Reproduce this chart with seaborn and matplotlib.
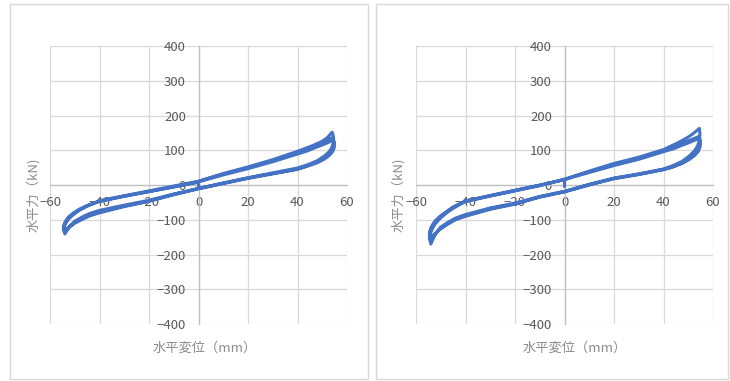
import numpy as np
import pandas as pd
import matplotlib
matplotlib.use('Agg')
import matplotlib.pyplot as plt
from matplotlib.patches import Rectangle
import seaborn as sns

# left specimen: loading path (mm, kN)
left_disp = [0, 0, 5, 10, 20, 30, 40, 46, 50, 52, 54,
             54.5, 54.6, 54, 52.8, 51, 48, 44, 40, 30, 20, 10, 0, -10, -20, -30, -40, -44, -47, -50, -52, -54,
             -54.6, -53.8, -52.5, -50.5, -48, -45, -42, -40, -33, -20, -10, 0, 10, 20, 30, 40, 44, 47, 50, 52, 54,
             54.7, 54.6, 54, 52.8, 51, 48, 44, 40, 30, 20, 10, 0, -10, -20, -30, -40, -44, -47, -50, -52, -54,
             -54.6, -53.8, -52.5, -50.5, -48, -45, -42, -40, -33, -20, -10, 0, 10, 20, 30, 40, 44, 47, 50, 52, 54.5,
             55, 54.8, 54.1, 52.8, 51, 48, 44, 40, 30, 20, 10, 0, -10, -20, -30, -40, -44, -47, -50, -52, -54,
             -54.6, -53.8, -52.5, -50.5, -48, -45, -40, -30, -20, -10, 0, 0]
left_force = [-3, 10, 22, 33, 52, 73, 97, 113, 126, 136, 152,
              140, 126, 110, 96, 84, 70, 58, 49, 35, 21, 6, -10, -26, -44, -58, -73, -82, -92, -104, -118, -141,
              -128, -112, -98, -85, -72, -60, -51, -45, -35, -17, -3, 11, 31, 50, 70, 92, 102, 112, 121, 128, 136,
              124, 112, 99, 88, 78, 66, 56, 46, 33, 20, 5, -10, -27, -46, -61, -78, -87, -97, -108, -120, -135,
              -123, -108, -95, -83, -71, -61, -52, -47, -37, -19, -5, 9, 29, 47, 67, 89, 98, 107, 115, 121, 130,
              118, 106, 95, 85, 75, 64, 54, 45, 32, 19, 4, -11, -28, -47, -62, -80, -89, -99, -110, -120, -130,
              -119, -105, -92, -80, -69, -59, -47, -32, -19, -6, 8, 0]

# right specimen
right_disp = [0, 0, 5, 10, 20, 30, 40, 46, 50, 52, 54.5,
              54.7, 54.5, 53.8, 52.5, 50.5, 47.5, 43.5, 40, 30, 20, 10, 0, -10, -20, -30, -40, -44, -47, -50, -52, -54,
              -54.6, -53.8, -52.5, -50.5, -48, -45, -42, -40, -30, -20, -10, 0, 10, 20, 30, 40, 44, 47, 50, 52, 54.5,
              54.8, 54.6, 53.9, 52.5, 50.5, 47.5, 43.5, 40, 30, 20, 10, 0, -10, -20, -30, -40, -44, -47, -50, -52, -54,
              -54.6, -53.8, -52.5, -50.5, -48, -45, -42, -40, -30, -20, -10, 0, 10, 20, 30, 40, 44, 47, 50, 52, 54.5,
              54.9, 54.7, 54, 52.6, 50.5, 47.5, 43.5, 40, 30, 20, 10, 0, -10, -20, -30, -40, -44, -47, -50, -52, -54,
              -54.6, -53.8, -52.5, -50.5, -48, -45, -40, -30, -20, -10, 0, 0]
right_force = [-5, 15, 28, 40, 62, 80, 102, 122, 138, 148, 163,
               148, 130, 113, 98, 84, 68, 55, 46, 32, 20, 2, -18, -33, -52, -66, -85, -95, -107, -121, -138, -170,
               -152, -132, -114, -98, -82, -67, -55, -48, -32, -17, -2, 17, 38, 58, 76, 98, 108, 118, 127, 133, 140,
               127, 112, 99, 87, 76, 63, 52, 45, 31, 19, 1, -19, -34, -54, -68, -88, -98, -110, -124, -140, -160,
               -144, -126, -110, -95, -80, -65, -53, -46, -31, -16, -1, 16, 36, 56, 74, 96, 104, 113, 121, 127, 134,
               121, 108, 96, 85, 74, 62, 51, 44, 30, 18, 0, -20, -35, -55, -70, -90, -100, -112, -126, -138, -150,
               -136, -120, -105, -91, -78, -63, -46, -30, -15, 0, 15, 0]

x_ticks = [-60, -40, -20, 0, 20, 40, 60]
y_ticks = [-400, -300, -200, -100, 0, 100, 200, 300, 400]
xlabel = '水平変位（mm）'
ylabel = '水平力（kN)'

sns.set_theme(style='white')
plt.rcParams['font.family'] = ['Noto Sans CJK JP', 'DejaVu Sans']

fig = plt.figure(figsize=(7.3, 3.81), dpi=100)
W, H = 730, 381

panels = [
    (left_disp, left_force, 50, (10, 368), 33, 205),
    (right_disp, right_force, 416, (376, 728), 398, 575),
]

for disp, force, x0, (bx0, bx1), ylab_x, xlab_x in panels:
    # panel frame
    fig.patches.append(Rectangle((bx0 / W, 1 - 379 / H), (bx1 - bx0) / W, 375 / H,
                                 transform=fig.transFigure, fill=False,
                                 edgecolor='#d9d9d9', lw=1))
    ax = fig.add_axes([x0 / W, 1 - 324 / H, 297 / W, 278 / H])
    df = pd.DataFrame({'disp': disp, 'force': force})
    sns.lineplot(data=df, x='disp', y='force', sort=False, estimator=None,
                 color='#4472c4', lw=2.2, ax=ax, zorder=4)
    ax.set_xlim(-60, 60)
    ax.set_ylim(-400, 400)
    ax.set_xticks(x_ticks)
    ax.set_yticks(y_ticks)
    ax.grid(True, color='#d9d9d9', lw=0.9)
    for s in ['top', 'right']:
        ax.spines[s].set_visible(False)
    ax.spines['left'].set_position(('data', 0))
    ax.spines['bottom'].set_position(('data', 0))
    for s in ['left', 'bottom']:
        ax.spines[s].set_color('#bfbfbf')
        ax.spines[s].set_linewidth(0.9)
    ax.tick_params(axis='both', length=0, labelsize=9.5, labelcolor='#595959')
    ax.tick_params(axis='y', pad=9)
    ax.tick_params(axis='x', pad=8)
    ax.set_xlabel('')
    ax.set_ylabel('')
    ax.set_facecolor('white')
    fig.text(ylab_x / W, 1 - 195 / H, ylabel, rotation=90, ha='center', va='center',
             fontsize=9.5, color='#8c8c8c')
    fig.text(xlab_x / W, 1 - 348 / H, xlabel, ha='center', va='center',
             fontsize=9.5, color='#8c8c8c')

fig.savefig('out.png', dpi=100)
